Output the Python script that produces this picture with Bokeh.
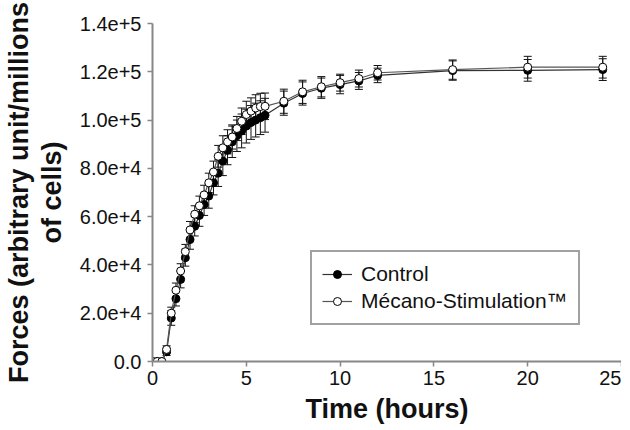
from bokeh.plotting import figure
from bokeh.models import ColumnDataSource, Whisker, TeeHead, Range1d, FixedTicker, Legend, LegendItem
from bokeh.embed import file_html
from bokeh.resources import INLINE

# ---- data ----
time_h = [0, 0.25, 0.5, 0.75, 1.0, 1.25, 1.5, 1.75, 2.0, 2.25, 2.5, 2.75, 3.0,
          3.25, 3.5, 3.75, 4.0, 4.25, 4.5, 4.75, 5.0, 5.25, 5.5, 5.75, 6.0,
          7, 8, 9, 10, 11, 12, 16, 20, 24]

control = [0, 0, 0, 4000, 18000, 26000, 34000, 43000, 50500, 56000, 60500, 65000, 68500,
           74000, 78000, 83000, 87500, 91000, 93500, 95500, 97500, 99000, 100000, 101000, 102000,
           107000, 111000, 113200, 114700, 116200, 118500, 120500, 120600, 120900]
control_err = [0, 0, 0, 1500, 3000, 3000, 3500, 3500, 4000, 4000, 4500, 4500, 5000,
               5000, 5500, 6000, 6000, 6500, 6500, 7000, 7000, 7000, 7000, 7000, 7000,
               5000, 4800, 4200, 3800, 3500, 3000, 4000, 4500, 4500]

mecano = [0, 0, 0, 5000, 20000, 29500, 37500, 45500, 54500, 61000, 64500, 69000, 74000,
          78500, 85000, 88500, 91000, 93000, 96500, 99500, 102300, 103700, 105000, 105600, 105700,
          107800, 111700, 113800, 115500, 117200, 119600, 120900, 121900, 121900]
mecano_err = [0, 0, 0, 1500, 2500, 3000, 3000, 3000, 3500, 3500, 4000, 4000, 4000,
              4500, 4500, 5000, 5000, 5000, 5000, 5500, 5500, 5500, 5500, 5500, 5500,
              5000, 4800, 4200, 3500, 3500, 3000, 4000, 4500, 4500]

x_ticks = [0, 5, 10, 15, 20, 25]
y_ticks = [0, 20000, 40000, 60000, 80000, 100000, 120000, 140000]
y_tick_labels = ["0.0", "2.0e+4", "4.0e+4", "6.0e+4", "8.0e+4", "1.0e+5", "1.2e+5", "1.4e+5"]

series_names = ["Control", "Mécano-Stimulation™"]

FONT = "Liberation Sans"

src_c = ColumnDataSource(dict(t=time_h, v=control,
                              up=[a + b for a, b in zip(control, control_err)],
                              lo=[a - b for a, b in zip(control, control_err)]))
src_m = ColumnDataSource(dict(t=time_h, v=mecano,
                              up=[a + b for a, b in zip(mecano, mecano_err)],
                              lo=[a - b for a, b in zip(mecano, mecano_err)]))

p = figure(frame_width=469, frame_height=338, output_backend="svg", toolbar_location=None,
           title=None,
           x_range=Range1d(0, 25), y_range=Range1d(0, 140000),
           min_border_left=148, min_border_right=0, min_border_top=23, min_border_bottom=0)
p.outline_line_color = None
p.xgrid.visible = False
p.ygrid.visible = False

for src in (src_c, src_m):
    w = Whisker(base="t", upper="up", lower="lo", source=src, level="underlay",
                line_color="#111111", line_width=1,
                upper_head=TeeHead(size=8, line_color="#111111", line_width=1),
                lower_head=TeeHead(size=8, line_color="#111111", line_width=1))
    p.add_layout(w)

lc = p.line("t", "v", source=src_c, line_color="#333333", line_width=1.2)
sc = p.scatter("t", "v", source=src_c, size=8, marker="circle",
               fill_color="black", line_color="black", line_width=1)
lm = p.line("t", "v", source=src_m, line_color="#555555", line_width=1.2)
sm = p.scatter("t", "v", source=src_m, size=8, marker="circle",
               fill_color="white", line_color="black", line_width=1)

legend = Legend(items=[LegendItem(label=series_names[0], renderers=[lc, sc]),
                       LegendItem(label=series_names[1], renderers=[lm, sm])],
                location=(158, 36), border_line_color="#444444", border_line_width=2,
                background_fill_alpha=1, label_text_font=FONT, label_text_font_size="21px",
                label_text_color="#111111", glyph_width=30, glyph_height=20,
                spacing=3, padding=10, margin=0, label_standoff=9)
p.add_layout(legend, "center")

for ax in (p.xaxis[0], p.yaxis[0]):
    ax.axis_line_color = "#888888"
    ax.axis_line_width = 2
    ax.major_tick_line_color = "#888888"
    ax.major_tick_line_width = 1.5
    ax.major_tick_out = 5
    ax.major_tick_in = 0
    ax.minor_tick_line_color = None
    ax.major_label_text_font = FONT
    ax.major_label_text_font_size = "20px"
    ax.major_label_text_color = "#111111"
    ax.axis_label_text_font = FONT
    ax.axis_label_text_font_size = "27px"
    ax.axis_label_text_font_style = "bold"
    ax.axis_label_text_color = "#111111"
    ax.axis_label_text_line_height = 1.1

p.xaxis.ticker = FixedTicker(ticks=x_ticks)
p.yaxis.ticker = FixedTicker(ticks=y_ticks)
p.yaxis.major_label_overrides = {t: s for t, s in zip(y_ticks, y_tick_labels)}
p.xaxis.axis_label = "Time (hours)"
p.yaxis.axis_label = "Forces (arbitrary unit/millions\nof cells)"
p.xaxis.major_label_standoff = 4
p.yaxis.major_label_standoff = 6
p.xaxis.axis_label_standoff = 6
p.yaxis.axis_label_standoff = 10

open("out.html", "w").write(file_html(p, INLINE))
